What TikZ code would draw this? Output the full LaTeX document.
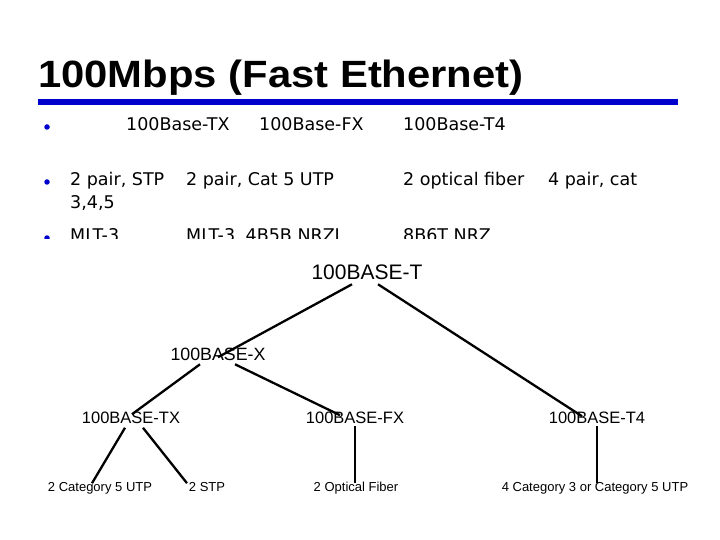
\documentclass[tikz,border=0pt]{standalone}
\usepackage{fontspec}
\setmainfont{Liberation Sans}
\newfontfamily\bodyfont{DejaVu Sans}
\usetikzlibrary{positioning}
\definecolor{barblue}{RGB}{0,0,204}

\begin{document}
\begin{tikzpicture}[x=1pt, y=-1pt,
  bodytext/.style={anchor=west, inner sep=0pt, font=\bodyfont\fontsize{17.5}{20}\selectfont, text height=0.73em, text depth=0pt},
  bulletdot/.style={circle, fill=barblue, inner sep=0pt, minimum size=5.5pt},
  treelbl/.style={inner sep=0pt, text height=0.716em, text depth=0pt},
  branch/.style={line width=2.3pt}]
\useasboundingbox (0,0) rectangle (720,540);

% title and bar
\node[anchor=base west, inner sep=0pt, font=\bfseries\fontsize{38}{40}\selectfont, xscale=1.1, transform shape] (title) at (38,88) {100Mbps (Fast Ethernet)};
\fill[barblue] (38,99) rectangle (678,105);

% bullet rows
\node[bulletdot] (b1) at (47,127) {};
\node[bodytext] (h1) at (126,127) {100Base-TX};
\node[bodytext] (h2) at (259,127) {100Base-FX};
\node[bodytext] (h3) at (403,127) {100Base-T4};

\node[bulletdot] (b2) at (47,182) {};
\node[bodytext] (m1) at (70,182) {2 pair, STP};
\node[bodytext] (m2) at (186,182) {2 pair, Cat 5 UTP};
\node[bodytext] (m3) at (403,182) {2 optical fiber};
\node[bodytext] (m4) at (548,182) {4 pair, cat};
\node[bodytext] (m5) at (70,205) {3,4,5};

\node[bulletdot] (b3) at (47,238) {};
\node[bodytext] (c1) at (70,238) {MLT-3};
\node[bodytext] (c2) at (186,238) {MLT-3\hspace{0.6em}4B5B NRZI};
\node[bodytext] (c3) at (403,238) {8B6T NRZ};
% the picture covers the rest of the row
\fill[white] (0,238.5) rectangle (720,540);

% tree
\node[treelbl, font=\fontsize{21}{24}\selectfont] (T) at (367,276) {100BASE-T};
\node[treelbl, font=\fontsize{17.8}{20}\selectfont] (X) at (218,357) {100BASE-X};
\node[treelbl, font=\fontsize{16.5}{19}\selectfont] (TX) at (131,420) {100BASE-TX};
\node[treelbl, font=\fontsize{16.5}{19}\selectfont] (FX) at (355,420) {100BASE-FX};
\node[treelbl, font=\fontsize{16.5}{19}\selectfont] (T4) at (597,420) {100BASE-T4};
\node[treelbl, font=\fontsize{13}{15}\selectfont] (L1) at (100,488) {2 Category 5 UTP};
\node[treelbl, font=\fontsize{13}{15}\selectfont] (L2) at (207,488) {2 STP};
\node[treelbl, font=\fontsize{13}{15}\selectfont] (L3) at (356,488) {2 Optical Fiber};
\node[treelbl, font=\fontsize{13}{15}\selectfont] (L4) at (595,488) {4 Category 3 or Category 5 UTP};

\draw[branch] ([shift={(-15,4.5)}]T.south) -- ([shift={(0,4)}]X.north);
\draw[branch] ([shift={(11,4.5)}]T.south) -- ([shift={(-15,0)}]T4.north);
\draw[branch] ([shift={(-18,3.5)}]X.south) -- ([shift={(1,-2)}]TX.north);
\draw[branch] ([shift={(17,3.5)}]X.south) -- ([shift={(-15,-1)}]FX.north);
\draw[branch] ([shift={(-6,4)}]TX.south) -- ([shift={(-8,-1)}]L1.north);
\draw[branch] ([shift={(12,4)}]TX.south) -- ([shift={(-20,-1)}]L2.north);
\draw[branch] ([shift={(0,2)}]FX.south) -- ([shift={(-1,-1)}]L3.north);
\draw[branch] ([shift={(0,2)}]T4.south) -- ([shift={(2,-1)}]L4.north);
\end{tikzpicture}
\end{document}
